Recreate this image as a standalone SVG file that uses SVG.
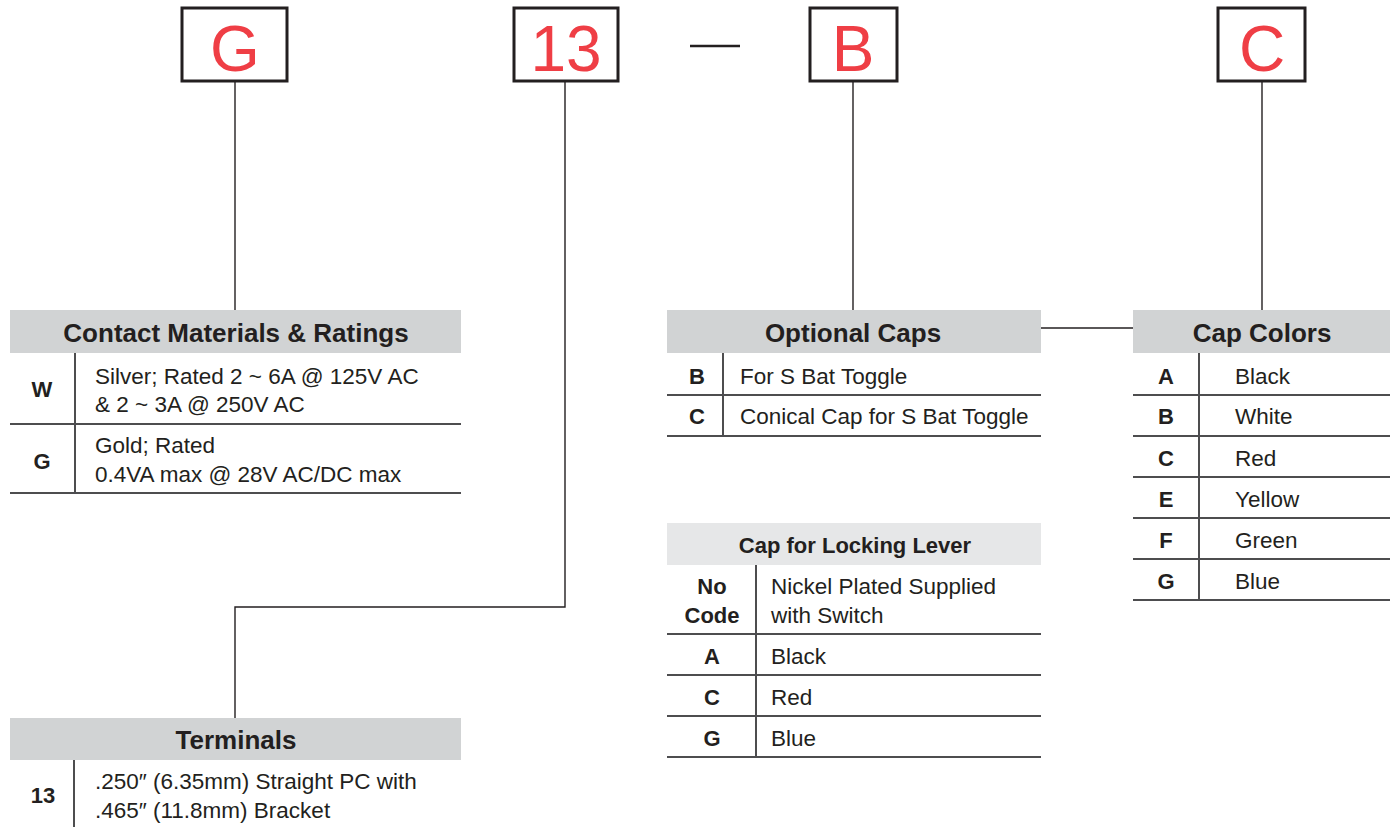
<svg xmlns="http://www.w3.org/2000/svg" width="1394" height="827" viewBox="0 0 1394 827">
<style>
text{font-family:"Liberation Sans",Arial,sans-serif;fill:#231f20}
.big{font-size:64px;fill:#ef3e45;text-anchor:middle}
.hd{font-size:26px;font-weight:bold;text-anchor:middle}
.hd2{font-size:22px;font-weight:bold;text-anchor:middle}
.cd{font-size:22px;font-weight:bold;text-anchor:middle}
.tx{font-size:22.5px}
.box{fill:#fff;stroke:#231f20;stroke-width:3}
.hf{fill:#d1d3d4}
.hf2{fill:#e6e7e8}
.rl{stroke:#4d4d4f;stroke-width:2;fill:none}
.cn{stroke:#231f20;stroke-width:1.4;fill:none}
</style>
<g id="connectors">
<path class="cn" d="M235 81V310"/>
<path class="cn" d="M565 81V607H235V718"/>
<path class="cn" d="M853 81V310"/>
<path class="cn" d="M1262 81V310"/>
<path class="cn" d="M1041 328H1133"/>
</g>
<g id="box-G"><rect class="box" x="182" y="8" width="105" height="73"/><text class="big" x="235" y="71">G</text></g>
<g id="box-13"><rect class="box" x="514" y="8" width="104" height="73"/><text class="big" x="566" y="71">13</text></g>
<g id="dash"><line x1="690" y1="46" x2="740" y2="46" stroke="#231f20" stroke-width="2.5"/></g>
<g id="box-B"><rect class="box" x="810" y="8" width="87" height="73"/><text class="big" x="853" y="71">B</text></g>
<g id="box-C"><rect class="box" x="1218" y="8" width="87" height="73"/><text class="big" x="1262" y="71">C</text></g>

<g id="contact-materials">
<rect class="hf" x="10" y="310" width="451" height="43"/>
<text class="hd" x="236" y="342">Contact Materials &amp; Ratings</text>
<path class="rl" d="M75 353V493M10 424H461M10 493H461"/>
<text class="cd" x="42" y="397">W</text>
<text class="tx" x="95" y="384">Silver; Rated 2 ~ 6A @ 125V AC</text>
<text class="tx" x="95" y="412">&amp; 2 ~ 3A @ 250V AC</text>
<text class="cd" x="42" y="469">G</text>
<text class="tx" x="95" y="453">Gold; Rated</text>
<text class="tx" x="95" y="482">0.4VA max @ 28V AC/DC max</text>
</g>

<g id="terminals">
<rect class="hf" x="10" y="718" width="451" height="42"/>
<text class="hd" x="236" y="749">Terminals</text>
<path class="rl" d="M74 760V827"/>
<text class="cd" x="43" y="803">13</text>
<text class="tx" x="95" y="789">.250″ (6.35mm) Straight PC with</text>
<text class="tx" x="95" y="818">.465″ (11.8mm) Bracket</text>
</g>

<g id="optional-caps">
<rect class="hf" x="667" y="310" width="374" height="43"/>
<text class="hd" x="853" y="342">Optional Caps</text>
<path class="rl" d="M723 353V436M667 395H1041M667 436H1041"/>
<text class="cd" x="697" y="384">B</text>
<text class="tx" x="740" y="384">For S Bat Toggle</text>
<text class="cd" x="697" y="424">C</text>
<text class="tx" x="740" y="424">Conical Cap for S Bat Toggle</text>
</g>

<g id="cap-colors">
<rect class="hf" x="1133" y="310" width="257" height="43"/>
<text class="hd" x="1262" y="342">Cap Colors</text>
<path class="rl" d="M1199 353V600M1133 395H1390M1133 436H1390M1133 477H1390M1133 518H1390M1133 559H1390M1133 600H1390"/>
<text class="cd" x="1166" y="384">A</text><text class="tx" x="1235" y="384">Black</text>
<text class="cd" x="1166" y="424">B</text><text class="tx" x="1235" y="424">White</text>
<text class="cd" x="1166" y="466">C</text><text class="tx" x="1235" y="466">Red</text>
<text class="cd" x="1166" y="507">E</text><text class="tx" x="1235" y="507">Yellow</text>
<text class="cd" x="1166" y="548">F</text><text class="tx" x="1235" y="548">Green</text>
<text class="cd" x="1166" y="589">G</text><text class="tx" x="1235" y="589">Blue</text>
</g>

<g id="cap-locking-lever">
<rect class="hf2" x="667" y="523" width="374" height="42"/>
<text class="hd2" x="855" y="553">Cap for Locking Lever</text>
<path class="rl" d="M756 565V757M667 634H1041M667 675H1041M667 716H1041M667 757H1041"/>
<text class="cd" x="712" y="594">No</text>
<text class="cd" x="712" y="623">Code</text>
<text class="tx" x="771" y="594">Nickel Plated Supplied</text>
<text class="tx" x="771" y="623">with Switch</text>
<text class="cd" x="712" y="664">A</text><text class="tx" x="771" y="664">Black</text>
<text class="cd" x="712" y="705">C</text><text class="tx" x="771" y="705">Red</text>
<text class="cd" x="712" y="746">G</text><text class="tx" x="771" y="746">Blue</text>
</g>
</svg>
